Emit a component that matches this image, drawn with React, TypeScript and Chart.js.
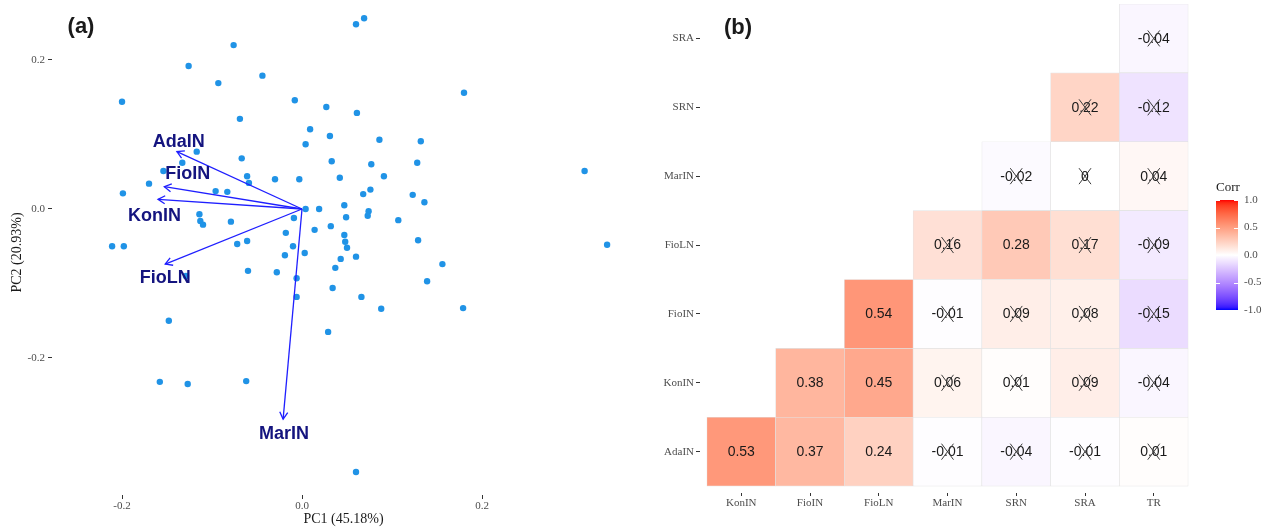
import React, { useEffect, useRef } from 'react';
import { Chart, registerables } from 'chart.js';

Chart.register(...registerables);

// ---------- Panel (a): PCA biplot ----------
const pc1Scores = [
  -0.076, -0.126, -0.044, -0.093, -0.2, -0.008, -0.069, 0.009, 0.004, -0.117,
  -0.067, -0.133, -0.154, -0.061, -0.059, -0.03, -0.003, -0.17, -0.096, -0.083,
  -0.199, 0.004, 0.019, -0.114, -0.113, -0.11, -0.079, -0.009, -0.018, 0.014,
  -0.072, -0.061, -0.01, -0.211, -0.198, -0.019, 0.003, -0.06, -0.028, -0.006,
  -0.006, -0.129, -0.148, -0.158, -0.127, -0.062, 0.06, 0.069, 0.18, 0.027,
  0.061, 0.031, 0.086, 0.132, 0.033, 0.077, 0.128, 0.042, 0.091, 0.314,
  0.068, 0.076, 0.123, 0.136, 0.047, 0.049, 0.074, 0.073, 0.107, 0.032,
  0.047, 0.048, 0.05, 0.043, 0.06, 0.339, 0.156, 0.037, 0.129, 0.034,
  0.139, 0.066, 0.088, 0.179, 0.029, 0.06,
];
const pc2Scores = [
  0.22, 0.192, 0.179, 0.169, 0.144, 0.146, 0.121, 0.107, 0.087, 0.077,
  0.068, 0.062, 0.051, 0.044, 0.035, 0.04, 0.04, 0.034, 0.024, 0.023,
  0.021, 0.0, 0.0, -0.007, -0.016, -0.021, -0.017, -0.012, -0.032, -0.028,
  -0.047, -0.043, -0.05, -0.05, -0.05, -0.062, -0.059, -0.083, -0.085, -0.093,
  -0.118, -0.09, -0.15, -0.232, -0.235, -0.231, 0.248, 0.256, 0.156, 0.137,
  0.129, 0.098, 0.093, 0.091, 0.064, 0.06, 0.062, 0.042, 0.044, 0.051,
  0.02, 0.026, 0.019, 0.009, 0.005, -0.011, -0.003, -0.009, -0.015, -0.023,
  -0.035, -0.044, -0.052, -0.067, -0.064, -0.048, -0.074, -0.079, -0.042, -0.106,
  -0.097, -0.118, -0.134, -0.133, -0.165, -0.353,
];

// Variable loadings (arrow tips) and their label anchors
const loadingNames = ['AdaIN', 'FioIN', 'KonIN', 'FioLN', 'MarIN'];
const loadingPC1 = [-0.139, -0.153, -0.16, -0.152, -0.021];
const loadingPC2 = [0.077, 0.03, 0.013, -0.074, -0.282];
const labelPC1 = [-0.137, -0.127, -0.164, -0.152, -0.02];
const labelPC2 = [0.09, 0.047, -0.01, -0.093, -0.302];

const pcTicks = [-0.2, 0, 0.2];

// ---------- Panel (b): correlation matrix ----------
const corrCols = ['KonIN', 'FioIN', 'FioLN', 'MarIN', 'SRN', 'SRA', 'TR'];
const corrRowNames = ['AdaIN', 'KonIN', 'FioIN', 'FioLN', 'MarIN', 'SRN', 'SRA'];

const corrAdaIN = [0.53, 0.37, 0.24, -0.01, -0.04, -0.01, 0.01];
const corrKonIN = [null, 0.38, 0.45, 0.06, 0.01, 0.09, -0.04];
const corrFioIN = [null, null, 0.54, -0.01, 0.09, 0.08, -0.15];
const corrFioLN = [null, null, null, 0.16, 0.28, 0.17, -0.09];
const corrMarIN = [null, null, null, null, -0.02, 0, 0.04];
const corrSRN = [null, null, null, null, null, 0.22, -0.12];
const corrSRA = [null, null, null, null, null, null, -0.04];

// true = significant (no cross drawn)
const sigAdaIN = [true, true, true, false, false, false, false];
const sigKonIN = [false, true, true, false, false, false, false];
const sigFioIN = [false, false, true, false, false, false, false];
const sigFioLN = [false, false, false, false, true, false, false];
const sigMarIN = [false, false, false, false, false, false, false];
const sigSRN = [false, false, false, false, false, false, false];
const sigSRA = [false, false, false, false, false, false, false];

const corrLegendTicks = [1, 0.5, 0, -0.5, -1];

const corrRows: (number | null)[][] = [corrAdaIN, corrKonIN, corrFioIN, corrFioLN, corrMarIN, corrSRN, corrSRA];
const sigRows: boolean[][] = [sigAdaIN, sigKonIN, sigFioIN, sigFioLN, sigMarIN, sigSRN, sigSRA];

// ---------- colour helpers (diverging gradient interpolated in Lab) ----------
const D65 = [0.95047, 1, 1.08883];
const toLin = (c: number) => {
  const v = c / 255;
  return v <= 0.04045 ? v / 12.92 : Math.pow((v + 0.055) / 1.055, 2.4);
};
const fromLin = (c: number) => {
  const x = Math.max(0, Math.min(1, c));
  const v = x <= 0.0031308 ? 12.92 * x : 1.055 * Math.pow(x, 1 / 2.4) - 0.055;
  return Math.round(v * 255);
};
function rgbToLab(rgb: number[]) {
  const [r, g, b] = rgb.map(toLin);
  const X = 0.4124564 * r + 0.3575761 * g + 0.1804375 * b;
  const Y = 0.2126729 * r + 0.7151522 * g + 0.072175 * b;
  const Z = 0.0193339 * r + 0.119192 * g + 0.9503041 * b;
  const f = (t: number) => (t > 216 / 24389 ? Math.cbrt(t) : ((24389 / 27) * t + 16) / 116);
  const fx = f(X / D65[0]);
  const fy = f(Y / D65[1]);
  const fz = f(Z / D65[2]);
  return [116 * fy - 16, 500 * (fx - fy), 200 * (fy - fz)];
}
function labToRgb(lab: number[]) {
  const [L, a, b] = lab;
  const fy = (L + 16) / 116;
  const fx = fy + a / 500;
  const fz = fy - b / 200;
  const inv = (t: number) => (t * t * t > 216 / 24389 ? t * t * t : (116 * t - 16) / (24389 / 27));
  const X = D65[0] * inv(fx);
  const Y = D65[1] * inv(fy);
  const Z = D65[2] * inv(fz);
  const r = 3.2404542 * X - 1.5371385 * Y - 0.4985314 * Z;
  const g = -0.969266 * X + 1.8760108 * Y + 0.041556 * Z;
  const bb = 0.0556434 * X - 0.2040259 * Y + 1.0572252 * Z;
  return [fromLin(r), fromLin(g), fromLin(bb)];
}
const labLow = rgbToLab([0, 0, 255]);
const labMid = rgbToLab([255, 255, 255]);
const labHigh = rgbToLab([255, 0, 0]);
function corrColor(v: number) {
  const t = Math.max(-1, Math.min(1, v));
  const end = t >= 0 ? labHigh : labLow;
  const k = Math.abs(t);
  const lab = labMid.map((m, i) => m + (end[i] - m) * k);
  const [r, g, b] = labToRgb(lab);
  return `rgb(${r},${g},${b})`;
}

const serif = '"Liberation Serif", "Times New Roman", serif';
const sans = '"Liberation Sans", Arial, sans-serif';

// ---------- plugins ----------
const panelTag = (text: string, x: number, y: number) => ({
  id: 'panelTag' + text,
  afterDraw(chart: any) {
    const ctx = chart.ctx;
    ctx.save();
    ctx.font = `bold 22px ${sans}`;
    ctx.fillStyle = '#1a1a1a';
    ctx.textAlign = 'center';
    ctx.textBaseline = 'middle';
    ctx.fillText(text, x, y);
    ctx.restore();
  },
});

const biplotArrows = {
  id: 'biplotArrows',
  afterDatasetsDraw(chart: any) {
    const { ctx, scales } = chart;
    const sx = scales.x;
    const sy = scales.y;
    const ox = sx.getPixelForValue(0);
    const oy = sy.getPixelForValue(0);
    ctx.save();
    ctx.strokeStyle = '#1f1fff';
    ctx.lineWidth = 1.3;
    loadingNames.forEach((_, i) => {
      const tx = sx.getPixelForValue(loadingPC1[i]);
      const ty = sy.getPixelForValue(loadingPC2[i]);
      ctx.beginPath();
      ctx.moveTo(ox, oy);
      ctx.lineTo(tx, ty);
      ctx.stroke();
      const ang = Math.atan2(ty - oy, tx - ox);
      const len = 8;
      const spread = Math.PI / 6;
      ctx.beginPath();
      ctx.moveTo(tx - len * Math.cos(ang - spread), ty - len * Math.sin(ang - spread));
      ctx.lineTo(tx, ty);
      ctx.lineTo(tx - len * Math.cos(ang + spread), ty - len * Math.sin(ang + spread));
      ctx.stroke();
    });
    ctx.font = `bold 18px ${sans}`;
    ctx.fillStyle = '#14147f';
    ctx.textAlign = 'center';
    ctx.textBaseline = 'middle';
    loadingNames.forEach((name, i) => {
      ctx.fillText(name, sx.getPixelForValue(labelPC1[i]), sy.getPixelForValue(labelPC2[i]));
    });
    ctx.restore();
  },
};

const corrCellText = {
  id: 'corrCellText',
  afterDatasetsDraw(chart: any) {
    const ctx = chart.ctx;
    ctx.save();
    ctx.font = `14px ${sans}`;
    ctx.fillStyle = '#1a1a1a';
    ctx.textAlign = 'center';
    ctx.textBaseline = 'middle';
    chart.data.datasets.forEach((ds: any, di: number) => {
      const meta = chart.getDatasetMeta(di);
      meta.data.forEach((el: any, j: number) => {
        const cell = ds.data[j];
        const v = corrRows[di][cell.x] as number;
        const cx = el.x;
        const cy = (el.y + el.base) / 2;
        ctx.fillText(String(Math.round(v * 100) / 100), cx, cy + 0.5);
        if (!sigRows[di][cell.x]) {
          ctx.strokeStyle = '#3a3a3a';
          ctx.lineWidth = 1;
          ctx.beginPath();
          ctx.moveTo(cx - 6, cy - 8);
          ctx.lineTo(cx + 6, cy + 8);
          ctx.moveTo(cx + 6, cy - 8);
          ctx.lineTo(cx - 6, cy + 8);
          ctx.stroke();
        }
      });
    });
    ctx.restore();
  },
};

const corrLegend = {
  id: 'corrLegend',
  afterDraw(chart: any) {
    const ctx = chart.ctx;
    const left = 576;
    const width = 22;
    const top = 200;
    const bottom = 310;
    const yOf = (v: number) => top + ((1 - v) / 2) * (bottom - top);
    ctx.save();
    const grad = ctx.createLinearGradient(0, top, 0, bottom);
    for (let k = 0; k <= 40; k++) {
      const v = 1 - (2 * k) / 40;
      grad.addColorStop(k / 40, corrColor(v));
    }
    ctx.fillStyle = grad;
    ctx.fillRect(left, top, width, bottom - top);
    ctx.strokeStyle = '#ffffff';
    ctx.lineWidth = 1;
    ctx.font = `11px ${serif}`;
    ctx.fillStyle = '#4d4d4d';
    ctx.textAlign = 'left';
    ctx.textBaseline = 'middle';
    corrLegendTicks.forEach((v) => {
      const y = Math.round(yOf(v)) + 0.5;
      ctx.beginPath();
      ctx.moveTo(left, y);
      ctx.lineTo(left + 4, y);
      ctx.moveTo(left + width - 4, y);
      ctx.lineTo(left + width, y);
      ctx.stroke();
      ctx.fillText(v.toFixed(1), left + width + 6, yOf(v));
    });
    ctx.font = `13px ${serif}`;
    ctx.fillStyle = '#1a1a1a';
    ctx.fillText('Corr', left, 188);
    ctx.restore();
  },
};

const tickFont = { family: serif, size: 11 };

function buildBiplot(canvas: HTMLCanvasElement) {
  return new Chart(canvas, {
    type: 'scatter',
    data: {
      datasets: [
        {
          data: pc1Scores.map((x, i) => ({ x, y: pc2Scores[i] })),
          backgroundColor: '#2093e6',
          pointRadius: 3.2,
          pointHoverRadius: 3.2,
          pointBorderWidth: 0,
        },
      ],
    },
    options: {
      responsive: false,
      animation: false,
      devicePixelRatio: 1,
      events: [],
      layout: { padding: { top: 10, right: 5, left: 0, bottom: 0 } },
      plugins: { legend: { display: false }, tooltip: { enabled: false } },
      scales: {
        x: {
          type: 'linear',
          min: -0.2778,
          max: 0.37,
          afterBuildTicks: (s: any) => {
            s.ticks = pcTicks.map((v) => ({ value: v }));
          },
          afterFit: (s: any) => {
            s.height = 33;
            s.paddingLeft = 0;
            s.paddingRight = 0;
          },
          grid: { drawOnChartArea: false, drawTicks: true, tickLength: 4, tickColor: '#333333', tickWidth: 1 },
          border: { display: false },
          ticks: {
            font: tickFont,
            color: '#4d4d4d',
            padding: 1,
            maxRotation: 0,
            callback: (v: any) => Number(v).toFixed(1),
          },
          title: {
            display: true,
            text: 'PC1 (45.18%)',
            font: { family: serif, size: 14 },
            color: '#1a1a1a',
            padding: { top: 0, bottom: 0 },
          },
        },
        y: {
          type: 'linear',
          min: -0.3839,
          max: 0.2671,
          afterBuildTicks: (s: any) => {
            s.ticks = pcTicks.map((v) => ({ value: v }));
          },
          afterFit: (s: any) => {
            s.width = 52;
            s.paddingTop = 0;
            s.paddingBottom = 0;
          },
          grid: { drawOnChartArea: false, drawTicks: true, tickLength: 4, tickColor: '#333333', tickWidth: 1 },
          border: { display: false },
          ticks: {
            font: tickFont,
            color: '#4d4d4d',
            padding: 3,
            callback: (v: any) => Number(v).toFixed(1),
          },
          title: {
            display: true,
            text: 'PC2 (20.93%)',
            font: { family: serif, size: 14 },
            color: '#1a1a1a',
            padding: { top: 9, bottom: 0 },
          },
        },
      },
    } as any,
    plugins: [biplotArrows, panelTag('(a)', 81, 27)],
  });
}

function buildCorr(canvas: HTMLCanvasElement) {
  const datasets = corrRows.map((row, r) => {
    const cells: { x: number; y: [number, number] }[] = [];
    const colors: string[] = [];
    row.forEach((v, c) => {
      if (v === null) return;
      cells.push({ x: c, y: [r, r + 1] });
      colors.push(corrColor(v));
    });
    return {
      label: corrRowNames[r],
      data: cells,
      backgroundColor: colors,
      borderColor: '#e2e2e2',
      borderWidth: 0.6,
      borderSkipped: false,
      grouped: false,
      barPercentage: 1,
      categoryPercentage: 1,
    };
  });
  return new Chart(canvas, {
    type: 'bar',
    data: { datasets } as any,
    options: {
      responsive: false,
      animation: false,
      devicePixelRatio: 1,
      events: [],
      layout: { padding: { top: 4, right: 71, left: 0, bottom: 0 } },
      plugins: { legend: { display: false }, tooltip: { enabled: false } },
      scales: {
        x: {
          type: 'linear',
          min: -0.6,
          max: 6.6,
          offset: false,
          afterBuildTicks: (s: any) => {
            s.ticks = corrCols.map((_, i) => ({ value: i }));
          },
          afterFit: (s: any) => {
            s.height = 35;
            s.paddingLeft = 0;
            s.paddingRight = 0;
          },
          grid: { offset: false, drawOnChartArea: false, drawTicks: true, tickLength: 3, tickColor: '#333333', tickWidth: 1 },
          border: { display: false },
          ticks: {
            font: tickFont,
            color: '#4d4d4d',
            padding: 1,
            maxRotation: 0,
            autoSkip: false,
            callback: (v: any) => corrCols[Math.round(Number(v))] ?? '',
          },
        },
        y: {
          type: 'linear',
          min: -0.1,
          max: 7,
          afterBuildTicks: (s: any) => {
            s.ticks = corrRowNames.map((_, i) => ({ value: i + 0.5 }));
          },
          afterFit: (s: any) => {
            s.width = 60;
            s.paddingTop = 0;
            s.paddingBottom = 0;
          },
          grid: { drawOnChartArea: false, drawTicks: true, tickLength: 4, tickColor: '#333333', tickWidth: 1 },
          border: { display: false },
          ticks: {
            font: tickFont,
            color: '#4d4d4d',
            padding: 2,
            autoSkip: false,
            callback: (v: any) => corrRowNames[Math.floor(Number(v))] ?? '',
          },
        },
      },
    } as any,
    plugins: [corrCellText, corrLegend, panelTag('(b)', 98, 28)],
  });
}

export default function App() {
  const refA = useRef<HTMLCanvasElement>(null);
  const refB = useRef<HTMLCanvasElement>(null);

  useEffect(() => {
    const a = buildBiplot(refA.current!);
    const b = buildCorr(refB.current!);
    return () => {
      a.destroy();
      b.destroy();
    };
  }, []);

  return (
    <div style={{ position: 'absolute', left: 0, top: 0, width: 1266, height: 528, background: '#ffffff' }}>
      <canvas ref={refA} width={640} height={528} style={{ position: 'absolute', left: 0, top: 0 }} />
      <canvas ref={refB} width={626} height={528} style={{ position: 'absolute', left: 640, top: 0 }} />
    </div>
  );
}
